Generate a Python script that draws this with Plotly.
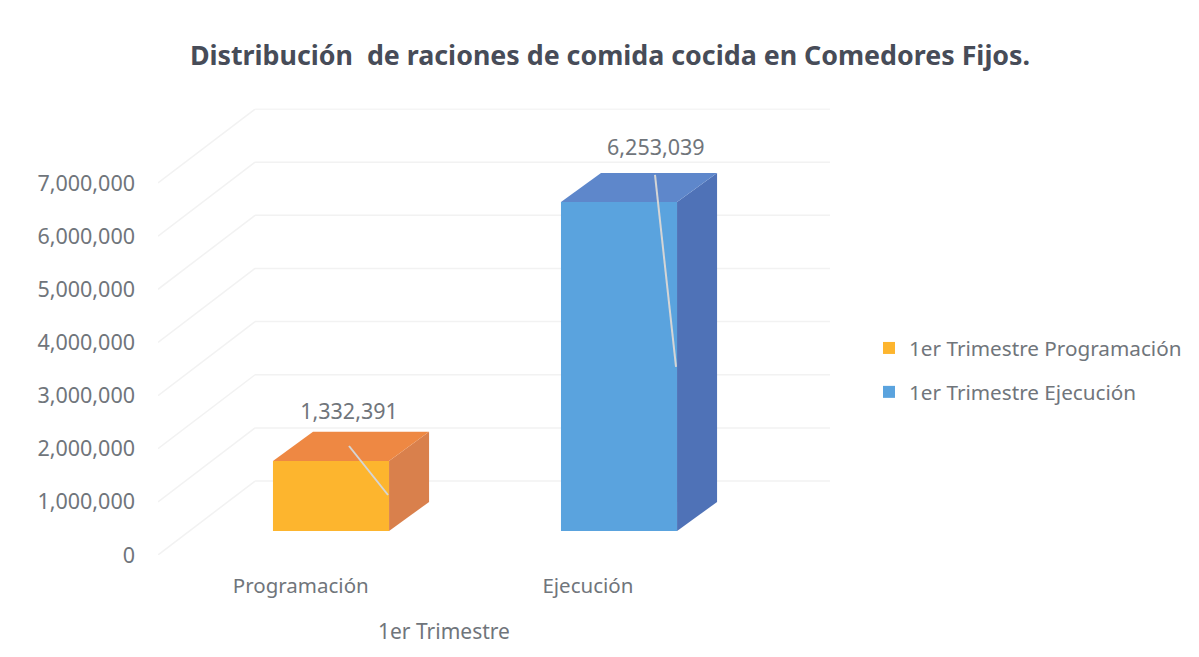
import plotly.graph_objects as go

categories = ["Programación", "Ejecución"]
series_names = ["1er Trimestre Programación", "1er Trimestre Ejecución"]
values = [1332391, 6253039]
value_labels = ["1,332,391", "6,253,039"]
y_ticks = [0, 1000000, 2000000, 3000000, 4000000, 5000000, 6000000, 7000000]
y_tick_labels = ["0", "1,000,000", "2,000,000", "3,000,000", "4,000,000", "5,000,000", "6,000,000", "7,000,000"]

# colores de cada serie: frente, tapa, lado
front_colors = ["#FDB52E", "#5AA3DE"]
top_colors = ["#EE8843", "#5E87CB"]
side_colors = ["#D9804C", "#4F72B7"]

# la pagina deja 8px de margen en el body
W, H = 1191, 649
FONT = "Noto Sans"
GREY = "#70757b"


def px(x):
    return (x - 8) / W


def py(y):
    return 1 - (y - 8) / H


# perspectiva del grafico "3D", en unidades de los ejes
wall_dx, wall_dy = 0.337, 1392000
bar_dx, bar_dy = 0.139, 546000
bar_base = 452000
bar_width = 0.403
bar_scale = 0.99

# posicion de las etiquetas y sus lineas guia
label_x = [0.0625, 1.128]
label_y = [2653000, 7621000]
leader_x = [[0.0625, 0.198], [1.125, 1.198]]
leader_y = [[2051000, 1129000], [7151000, 3538000]]

fig = go.Figure()

for i, name in enumerate(series_names):
    fig.add_trace(go.Bar(
        x=[i], y=[values[i] * bar_scale], base=[bar_base], width=bar_width,
        name=name, legendgroup=name, marker=dict(color=front_colors[i], line=dict(width=0)),
        hoverinfo="skip",
    ))

for i in range(len(values)):
    x0 = i - bar_width / 2
    x1 = i + bar_width / 2
    y0 = bar_base
    y1 = bar_base + values[i] * bar_scale
    # lado
    fig.add_trace(go.Scatter(
        x=[x1, x1 + bar_dx, x1 + bar_dx, x1, x1],
        y=[y0, y0 + bar_dy, y1 + bar_dy, y1, y0],
        mode="lines", fill="toself", fillcolor=side_colors[i], line=dict(width=0),
        showlegend=False, hoverinfo="skip",
    ))
    # tapa
    fig.add_trace(go.Scatter(
        x=[x0, x0 + bar_dx, x1 + bar_dx, x1, x0],
        y=[y1, y1 + bar_dy, y1 + bar_dy, y1, y1],
        mode="lines", fill="toself", fillcolor=top_colors[i], line=dict(width=0),
        showlegend=False, hoverinfo="skip",
    ))
    # linea guia
    fig.add_trace(go.Scatter(
        x=leader_x[i], y=leader_y[i], mode="lines",
        line=dict(color="#d5d5d5", width=2),
        showlegend=False, hoverinfo="skip",
    ))

fig.add_trace(go.Scatter(
    x=label_x, y=label_y, mode="text", text=value_labels,
    textfont=dict(family=FONT, size=21.5, color=GREY),
    showlegend=False, hoverinfo="skip",
))

# rejilla: pared lateral y pared del fondo
x_left, x_right = -0.6007, 1.7326
grid = []
for t in y_ticks:
    grid.append(dict(type="line", layer="below", xref="x", yref="y",
                     x0=x_left, y0=t, x1=x_left + wall_dx, y1=t + wall_dy,
                     line=dict(color="#f2f2f2", width=1.5)))
    grid.append(dict(type="line", layer="below", xref="x", yref="y",
                     x0=x_left + wall_dx, y0=t + wall_dy, x1=x_right, y1=t + wall_dy,
                     line=dict(color="#f2f2f2", width=1.5)))

fig.update_layout(
    width=W, height=H, margin=dict(l=0, r=0, t=0, b=0, autoexpand=False),
    autosize=False, barmode="overlay",
    paper_bgcolor="white", plot_bgcolor="rgba(0,0,0,0)",
    font=dict(family=FONT, size=20.5, color=GREY),
    title=dict(text="<b>Distribución  de raciones de comida cocida en Comedores Fijos.</b>",
               x=px(610), y=py(56), xanchor="center", yanchor="middle",
               font=dict(family=FONT, size=26.8, color="#474c58")),
    xaxis=dict(domain=[px(158), px(830)], range=[x_left, x_right],
               tickmode="array", tickvals=[-0.105, 0.892], ticktext=categories,
               showgrid=False, zeroline=False, showline=False, ticks="",
               ticklabelstandoff=16),
    yaxis=dict(domain=[py(555), py(108.6)], range=[0, 8400000],
               tickmode="array", tickvals=y_ticks, ticktext=y_tick_labels,
               tickfont=dict(family=FONT, size=21.5, color=GREY),
               showgrid=False, zeroline=False, showline=False, ticks="",
               ticklabelstandoff=22),
    legend=dict(x=px(869), y=py(370), xanchor="left", yanchor="middle",
                bgcolor="rgba(0,0,0,0)", traceorder="grouped", itemclick=False,
                font=dict(family=FONT, size=20.7, color=GREY), tracegroupgap=14),
    shapes=grid,
    annotations=[dict(text="1er Trimestre", x=0.392, xref="x", y=py(631), yref="paper",
                      showarrow=False, xanchor="center", yanchor="middle",
                      font=dict(family=FONT, size=21, color=GREY))],
)

fig.write_html("out.html")
